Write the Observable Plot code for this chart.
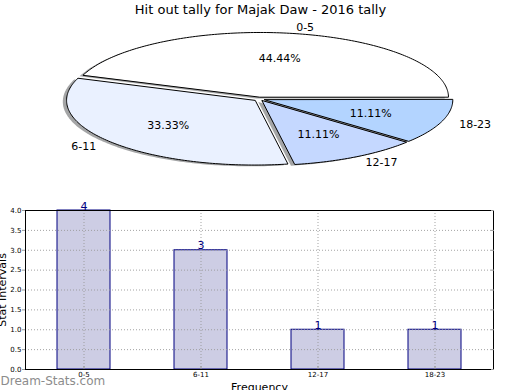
<!DOCTYPE html>
<html><head><meta charset="utf-8">
<script src="https://cdn.jsdelivr.net/npm/d3@7"></script>
<script src="https://cdn.jsdelivr.net/npm/@observablehq/plot@0.6"></script>
<style>
body{margin:0;background:#fff;}
#chart{width:520px;height:390px;position:relative;overflow:hidden;background:#fff;}
#chart svg{display:block;}
</style>
</head><body><div id="chart"></div>
<script>
const title = "Hit out tally for Majak Daw - 2016 tally";
const categories = ["0-5", "6-11", "12-17", "18-23"];
const values = [4, 3, 1, 1];
const pieColors = ["#ffffff", "#eaf1ff", "#c5d8ff", "#b3d4ff"];
const yTicks = [0, 0.5, 1, 1.5, 2, 2.5, 3, 3.5, 4];
const yLabel = "Stat Intervals";
const xLabel = "Frequency";
const watermark = "Dream-Stats.com";

const FONT = "DejaVu Sans, sans-serif";
const total = d3.sum(values);
const explode = 0.03;
const shadowOff = -0.02;

// wedge geometry in unit-circle data space (matplotlib-style: start 0°, counterclockwise)
let acc = 0;
const wedges = categories.map((c, i) => {
  const a0 = acc / total * 360; acc += values[i]; const a1 = acc / total * 360;
  const mid = (a0 + a1) / 2 * Math.PI / 180;
  return {c, i, a0, a1, mid, ox: explode * Math.cos(mid), oy: explode * Math.sin(mid),
          pct: (values[i] / total * 100).toFixed(2) + "%"};
});
function poly(w, dx, dy) {
  const pts = [{x: w.ox + dx, y: w.oy + dy}];
  const n = Math.ceil(w.a1 - w.a0);
  for (let k = 0; k <= n; k++) {
    const a = (w.a0 + (w.a1 - w.a0) * k / n) * Math.PI / 180;
    pts.push({x: w.ox + dx + Math.cos(a), y: w.oy + dy + Math.sin(a)});
  }
  return pts;
}
const labels = wedges.map(w => ({c: w.c, x: w.ox + 1.1 * Math.cos(w.mid), y: w.oy + 1.1 * Math.sin(w.mid), right: Math.cos(w.mid) > 0}));
const pcts = wedges.map(w => ({t: w.pct, x: w.ox + 0.6 * Math.cos(w.mid), y: w.oy + 0.6 * Math.sin(w.mid)}));

const cx = 258.7, cy = 98.6, rx = 188.3, ry = 64.7;
const pieMarks = [];
for (const w of wedges) pieMarks.push(Plot.line(poly(w, shadowOff, shadowOff), {x: "x", y: "y", curve: "linear-closed", fill: "#4a4b4d", fillOpacity: 0.5, stroke: "none"}));
for (const w of wedges) pieMarks.push(Plot.line(poly(w, 0, 0), {x: "x", y: "y", curve: "linear-closed", fill: pieColors[w.i], stroke: "#000", strokeWidth: 1, strokeLinejoin: "miter"}));
pieMarks.push(Plot.text(labels.filter(d => d.right), {x: "x", y: "y", text: "c", textAnchor: "start", lineAnchor: "middle", fontSize: 11, fill: "#000"}));
pieMarks.push(Plot.text(labels.filter(d => !d.right), {x: "x", y: "y", text: "c", textAnchor: "end", lineAnchor: "middle", fontSize: 11, fill: "#000"}));
pieMarks.push(Plot.text(pcts, {x: "x", y: "y", text: "t", textAnchor: "middle", lineAnchor: "middle", fontSize: 11, fill: "#000"}));
pieMarks.push(Plot.text([title], {text: d => d, frameAnchor: "top", dy: 4, lineAnchor: "top", textAnchor: "middle", fontSize: 13, fill: "#000"}));

const pie = Plot.plot({
  width: 520, height: 195, margin: 0,
  style: {fontFamily: FONT, background: "transparent", overflow: "visible"},
  x: {domain: [-1, 1], range: [cx - rx, cx + rx], axis: null},
  y: {domain: [-1, 1], range: [cy + ry, cy - ry], axis: null},
  marks: pieMarks
});

const barData = categories.map((c, i) => ({c, v: values[i]}));
const bars = Plot.plot({
  width: 520, height: 195, marginLeft: 25, marginRight: 27, marginTop: 15, marginBottom: 21,
  style: {fontFamily: FONT, background: "transparent", overflow: "visible"},
  x: {type: "band", domain: categories, paddingInner: 0.545, paddingOuter: 0.2725, axis: null, label: null},
  y: {domain: [0, 4], axis: null, label: null},
  marks: [
    Plot.barY(barData, {x: "c", y: "v", fill: "#cdcde4", stroke: "#000080", strokeWidth: 1}),
    Plot.gridY(yTicks, {stroke: "#999", strokeOpacity: 0.9, strokeDasharray: "1,2"}),
    Plot.gridX(categories, {stroke: "#999", strokeOpacity: 0.9, strokeDasharray: "1,2"}),
    Plot.frame({stroke: "#000", strokeWidth: 1}),
    Plot.axisY(yTicks, {label: null, tickFormat: d => d.toFixed(1), fontSize: 7, tickSize: 3, tickPadding: 1, stroke: "#999", fill: "#000"}),
    Plot.axisY(yTicks, {label: null, anchor: "right", tickFormat: () => "", tickSize: -3, stroke: "#999"}),
    Plot.axisX(categories, {label: null, fontSize: 7, tickSize: -3, tickPadding: 6, stroke: "#999", fill: "#000"}),
    Plot.text(barData, {x: "c", y: "v", text: d => String(d.v), dy: -1, lineAnchor: "bottom", fontSize: 11, fill: "#000080"}),
    Plot.text([yLabel], {text: d => d, frameAnchor: "left", dx: -20, rotate: -90, textAnchor: "middle", lineAnchor: "bottom", fontSize: 11, fill: "#000"}),
    Plot.text([xLabel], {text: d => d, frameAnchor: "bottom", dy: 14, textAnchor: "middle", lineAnchor: "top", fontSize: 11, fill: "#000"}),
    Plot.text([watermark], {text: d => d, frameAnchor: "bottom-left", dx: -25, dy: 15, textAnchor: "start", lineAnchor: "bottom", fontSize: 12, fill: "#8c8c8c"})
  ]
});
const root = document.getElementById("chart");
root.appendChild(pie);
root.appendChild(bars);
</script>
</body></html>
